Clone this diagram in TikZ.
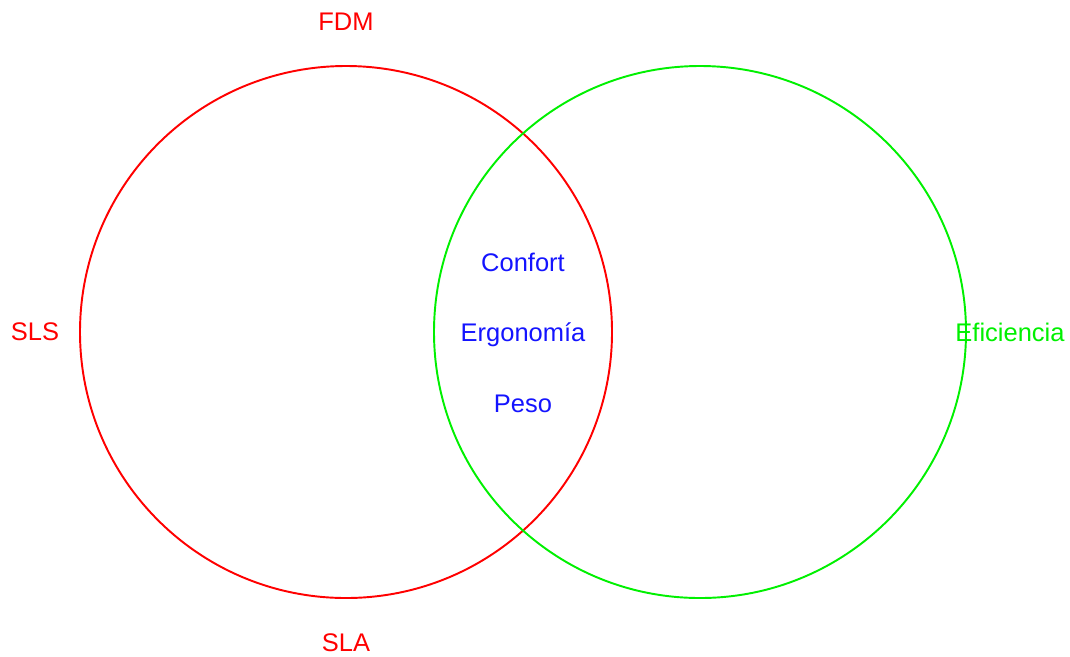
\documentclass[tikz,border=0pt]{standalone}
\usepackage{fontspec}
\setmainfont{Liberation Sans}
\usepackage{xcolor}
\usepackage{tikz}

\definecolor{fdmred}{RGB}{255,0,0}
\definecolor{efigreen}{RGB}{0,240,0}
\definecolor{midblue}{RGB}{20,20,255}

\begin{document}
\begin{tikzpicture}[font=\fontsize{14.5}{15}\selectfont,
  ring/.style={line width=1.1pt},
  redlabel/.style={text=fdmred, inner sep=0pt},
  greenlabel/.style={text=efigreen, inner sep=0pt},
  bluelabel/.style={text=midblue, inner sep=0pt}]
\useasboundingbox (0,0) rectangle (21.4,-13.12);

% the two sets
\draw[ring, fdmred] (6.92,-6.64) circle (5.32);
\draw[ring, efigreen] (14.0,-6.64) circle (5.32);

% labels round the red set
\node[redlabel] (fdm) at (6.92,-0.44) {FDM};
\node[redlabel] (sls) at (0.70,-6.64) {SLS};
\node[redlabel] (sla) at (6.92,-12.86) {SLA};

% label of the green set
\node[greenlabel] (efi) at (20.2,-6.64) {Eficiencia};

% the overlap
\node[bluelabel, anchor=base] (confort) at (10.46,-5.42) {Confort};
\node[bluelabel, anchor=base] (ergo) at (10.46,-6.82) {Ergonomía};
\node[bluelabel, anchor=base] (peso) at (10.46,-8.24) {Peso};
\end{tikzpicture}
\end{document}
